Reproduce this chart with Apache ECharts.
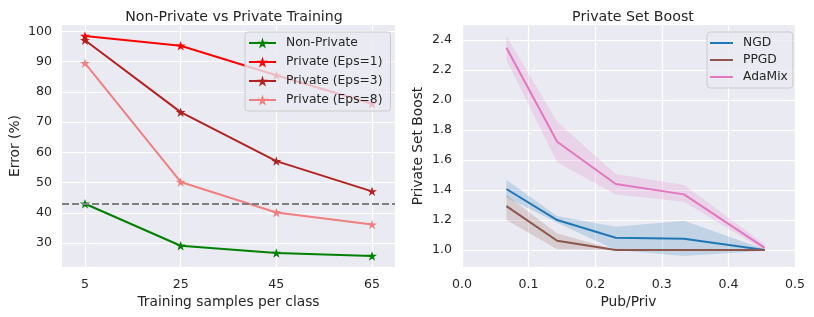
<!DOCTYPE html>
<html><head><meta charset="utf-8">
<script src="https://cdn.jsdelivr.net/npm/echarts@6/dist/echarts.min.js"></script>
<style>html,body{margin:0;padding:0;background:#fff}#c{width:814px;height:317px}</style>
</head><body><div id="c"></div>
<script>
// ---- Left chart data ----
const samplesPerClass = [5, 25, 45, 65];
const nonPrivate = [43.0, 29.1, 26.7, 25.7];
const privateEps1 = [98.5, 95.3, 85.5, 76.1];
const privateEps3 = [97.1, 73.3, 57.1, 47.1];
const privateEps8 = [89.5, 50.2, 40.1, 36.1];
const baselineError = 43.0;
const leftYTicks = [30, 40, 50, 60, 70, 80, 90, 100];
const leftXTicks = [5, 25, 45, 65];

// ---- Right chart data ----
const pubPriv = [0.0667, 0.1429, 0.2308, 0.3333, 0.4545];
const ngd = [1.407, 1.200, 1.082, 1.076, 1.000];
const ngdLow = [1.350, 1.182, 1.000, 0.960, 0.995];
const ngdHigh = [1.467, 1.227, 1.155, 1.195, 1.005];
const ppgd = [1.293, 1.062, 1.000, 1.000, 1.000];
const ppgdLow = [1.200, 1.005, 0.998, 0.998, 0.998];
const ppgdHigh = [1.367, 1.111, 1.002, 1.002, 1.002];
const adamix = [2.349, 1.722, 1.440, 1.371, 1.015];
const adamixLow = [2.267, 1.585, 1.371, 1.322, 0.995];
const adamixHigh = [2.427, 1.855, 1.507, 1.433, 1.038];
const rightYTicks = [1.0, 1.2, 1.4, 1.6, 1.8, 2.0, 2.2, 2.4];

const FONT = 'DejaVu Sans';
const TXT = '#262626';
const STAR = 'path://M50,0L61.2,34.5L97.6,34.5L68.2,55.9L79.4,90.5L50,69.1L20.6,90.5L31.8,55.9L2.4,34.5L38.8,34.5Z';

function pairs(xs, ys) { return xs.map((x, i) => [x, ys[i]]); }

function starLine(name, ys, color, extra) {
  return Object.assign({
    name, type: 'line', xAxisIndex: 0, yAxisIndex: 0,
    data: pairs(samplesPerClass, ys),
    symbol: STAR, symbolSize: 10, symbolKeepAspect: true,
    lineStyle: { color, width: 2 }, itemStyle: { color },
    z: 3
  }, extra || {});
}
function meanLine(name, ys, color) {
  return {
    name, type: 'line', xAxisIndex: 1, yAxisIndex: 1,
    data: pairs(pubPriv, ys), symbol: 'none',
    lineStyle: { color, width: 2 }, itemStyle: { color }, z: 4
  };
}
function band(key, lo, hi, color) {
  return {
    name: key + '_band', type: 'custom', xAxisIndex: 1, yAxisIndex: 1, silent: true, z: 2,
    data: pubPriv.map((x, i) => [x, lo[i], hi[i]]),
    encode: { x: 0, y: [1, 2] },
    renderItem: function (params, api) {
      if (params.dataIndex !== 0) return null;
      const top = pubPriv.map((x, i) => api.coord([x, hi[i]]));
      const bot = pubPriv.map((x, i) => api.coord([x, lo[i]])).reverse();
      return { type: 'polygon', shape: { points: top.concat(bot) },
        style: { fill: color, opacity: 0.2 } };
    }
  };
}

const axisTextStyle = { fontFamily: FONT, fontSize: 12.6, color: TXT };
const nameTextStyle = { fontFamily: FONT, fontSize: 13.8, color: TXT };

const chart = echarts.init(document.getElementById('c'), null, { renderer: 'canvas' });
chart.setOption({
  animation: false,
  backgroundColor: '#fff',
  title: [
    { text: 'Non-Private vs Private Training', left: 229, top: 5, textAlign: 'center',
      textStyle: { fontFamily: FONT, fontSize: 14.2, fontWeight: 'normal', color: TXT } },
    { text: 'Private Set Boost', left: 628, top: 5, textAlign: 'center',
      textStyle: { fontFamily: FONT, fontSize: 14.2, fontWeight: 'normal', color: TXT } }
  ],
  grid: [
    { left: 62, right: 419, top: 25, bottom: 50, show: true, backgroundColor: '#EAEAF2', borderWidth: 0 },
    { left: 462, right: 19, top: 25, bottom: 50, show: true, backgroundColor: '#EAEAF2', borderWidth: 0 }
  ],
  xAxis: [
    { type: 'value', gridIndex: 0, min: 0.2, max: 69.8,
      name: 'Training samples per class', nameLocation: 'middle', nameGap: 27, nameTextStyle,
      axisLine: { show: false },
      axisTick: { show: false, customValues: leftXTicks },
      axisLabel: Object.assign({ customValues: leftXTicks, margin: 11 }, axisTextStyle),
      splitLine: { show: true, customValues: leftXTicks, lineStyle: { color: '#fff', width: 1.2 } } },
    { type: 'value', gridIndex: 1, min: 0, max: 0.5, interval: 0.1,
      name: 'Pub/Priv', nameLocation: 'middle', nameGap: 27, nameTextStyle,
      axisLine: { show: false }, axisTick: { show: false },
      axisLabel: Object.assign({ margin: 11, formatter: v => v.toFixed(1) }, axisTextStyle),
      splitLine: { show: true, lineStyle: { color: '#fff', width: 1.2 } } }
  ],
  yAxis: [
    { type: 'value', gridIndex: 0, min: 22.06, max: 102.14,
      name: 'Error (%)', nameLocation: 'middle', nameGap: 40, nameTextStyle,
      axisLine: { show: false },
      axisTick: { show: false, customValues: leftYTicks },
      axisLabel: Object.assign({ customValues: leftYTicks, margin: 10 }, axisTextStyle),
      splitLine: { show: true, customValues: leftYTicks, lineStyle: { color: '#fff', width: 1.2 } } },
    { type: 'value', gridIndex: 1, min: 0.887, max: 2.5,
      name: 'Private Set Boost', nameLocation: 'middle', nameGap: 37, nameTextStyle,
      axisLine: { show: false },
      axisTick: { show: false, customValues: rightYTicks },
      axisLabel: Object.assign({ customValues: rightYTicks, margin: 10, formatter: v => v.toFixed(1) }, axisTextStyle),
      splitLine: { show: true, customValues: rightYTicks, lineStyle: { color: '#fff', width: 1.2 } } }
  ],
  legend: [
    { orient: 'vertical', left: 245, top: 32, padding: [5, 8, 5, 3], itemGap: 7,
      itemWidth: 27, itemHeight: 14,
      data: ['Non-Private', 'Private (Eps=1)', 'Private (Eps=3)', 'Private (Eps=8)'],
      backgroundColor: 'rgba(234,234,242,0.8)', borderColor: '#cccccc', borderWidth: 1, borderRadius: 3,
      textStyle: { fontFamily: FONT, fontSize: 12.3, color: TXT, padding: [0, 0, 0, 5] } },
    { orient: 'vertical', left: 707, top: 32, padding: [5, 5, 5, 3], itemGap: 5,
      itemWidth: 23, itemHeight: 2, icon: 'rect',
      data: ['NGD', 'PPGD', 'AdaMix'],
      backgroundColor: 'rgba(234,234,242,0.8)', borderColor: '#cccccc', borderWidth: 1, borderRadius: 3,
      textStyle: { fontFamily: FONT, fontSize: 12.3, color: TXT, padding: [0, 0, 0, 5] } }
  ],
  series: [
    starLine('Non-Private', nonPrivate, '#008000', {
      markLine: { silent: true, symbol: 'none', label: { show: false },
        lineStyle: { color: '#808080', type: [7, 3], width: 1.8 },
        data: [{ yAxis: baselineError }] } }),
    starLine('Private (Eps=1)', privateEps1, '#ff0000'),
    starLine('Private (Eps=3)', privateEps3, '#b22222'),
    starLine('Private (Eps=8)', privateEps8, '#f08080'),
    band('ngd', ngdLow, ngdHigh, '#1f77b4'),
    band('ppgd', ppgdLow, ppgdHigh, '#8c564b'),
    band('adamix', adamixLow, adamixHigh, '#e377c2'),
    meanLine('NGD', ngd, '#1f77b4'),
    meanLine('PPGD', ppgd, '#8c564b'),
    meanLine('AdaMix', adamix, '#e377c2')
  ]
});
</script></body></html>
